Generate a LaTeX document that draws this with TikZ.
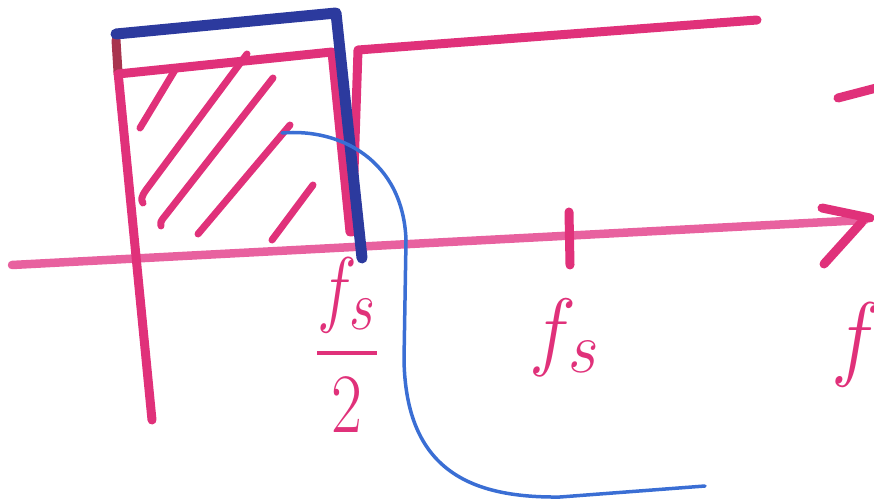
\documentclass[tikz,border=0pt]{standalone}
\usepackage{graphicx}
\usepackage{amsmath}
\definecolor{pk}{HTML}{E0317A}
\definecolor{pkl}{HTML}{E8619F}
\definecolor{dkb}{HTML}{2C3A9E}
\definecolor{lb}{HTML}{3A6ED4}
\definecolor{br}{HTML}{A8344E}
\newcommand{\biglbl}[3]{\scalebox{#1}[#2]{\Huge #3}}
\begin{document}
\begin{tikzpicture}[x=1pt,y=-1pt, line cap=round, line join=round,
  marker/.style={draw=pk, line width=9pt},
  axisline/.style={draw=pkl, line width=8.5pt},
  bluebox/.style={draw=dkb, line width=11pt},
  thinblue/.style={draw=lb, line width=3.5pt},
  hatch/.style={draw=pk, line width=7pt},
  lbl/.style={text=pk, inner sep=0pt}]
\useasboundingbox (0,0) rectangle (874,502);
\clip (0,0) rectangle (874,502);
% frequency axis with arrowhead
\coordinate (axL) at (12,265);
\coordinate (axR) at (865,220);
\draw[axisline] (axL) -- (axR);
\coordinate (ah1) at (822,208);
\coordinate (ah2) at (870,218);
\coordinate (ah3) at (862,222);
\coordinate (ah4) at (824,264);
\draw[marker] (ah1) -- (ah2);
\draw[marker] (ah3) -- (ah4);
% vertical axis
\coordinate (vT) at (116,40);
\coordinate (vM) at (118,72);
\coordinate (vB) at (152,420);
\draw[marker] (vM) -- (vB);
\draw[draw=br, line width=9pt] (vT) -- (vM);
% pink passband box
\coordinate (pA) at (118,74);
\coordinate (pB) at (332,52);
\coordinate (pC) at (350,232);
\draw[marker] (pA) -- (pB) -- (pC);
% pink image line
\coordinate (qA) at (358,50);
\coordinate (qB) at (352,232);
\coordinate (qC) at (757,20);
\draw[marker] (qB) -- (qA) -- (qC);
% hatching
\draw[hatch] (175,70) -- (140,128);
\draw[hatch] (247,54) -- (146,190) .. controls (141,197) and (141,200) .. (143,203);
\draw[hatch] (273,78) -- (165,216) .. controls (160,222) and (160,224) .. (161,226);
\draw[hatch] (290,125) -- (198,234);
\draw[hatch] (313,185) -- (272,240);
% tick at fs
\coordinate (tkT) at (569,212);
\coordinate (tkB) at (570,265);
\draw[marker] (tkT) -- (tkB);
% ideal filter (dark blue)
\coordinate (bA) at (116,34);
\coordinate (bB) at (336,13);
\coordinate (bC) at (362,258);
\draw[bluebox] (bA) -- (bB) -- (bC);
% real filter response (light blue)
\coordinate (cS) at (282,133);
\coordinate (cM) at (406,240);
\coordinate (cN) at (404,360);
\coordinate (cP) at (560,497);
\coordinate (cE) at (705,486);
\draw[thinblue] (cS) .. controls (340,128) and (403,160) .. (cM) -- (cN) .. controls (406,470) and (470,498) .. (cP) -- (cE);
% labels
\node[lbl] (half) at (347,345) {\biglbl{2.7}{3.4}{$\dfrac{f_s}{2}$}};
\node[lbl] (fs) at (565,338) {\biglbl{3.2}{3.5}{$f_s$}};
\node[lbl] (f) at (856,345) {\biglbl{3.4}{3.8}{$f$}};
% cut-off stroke at right edge
\coordinate (dA) at (838,98);
\coordinate (dB) at (884,86);
\draw[marker] (dA) -- (dB);
\end{tikzpicture}
\end{document}
